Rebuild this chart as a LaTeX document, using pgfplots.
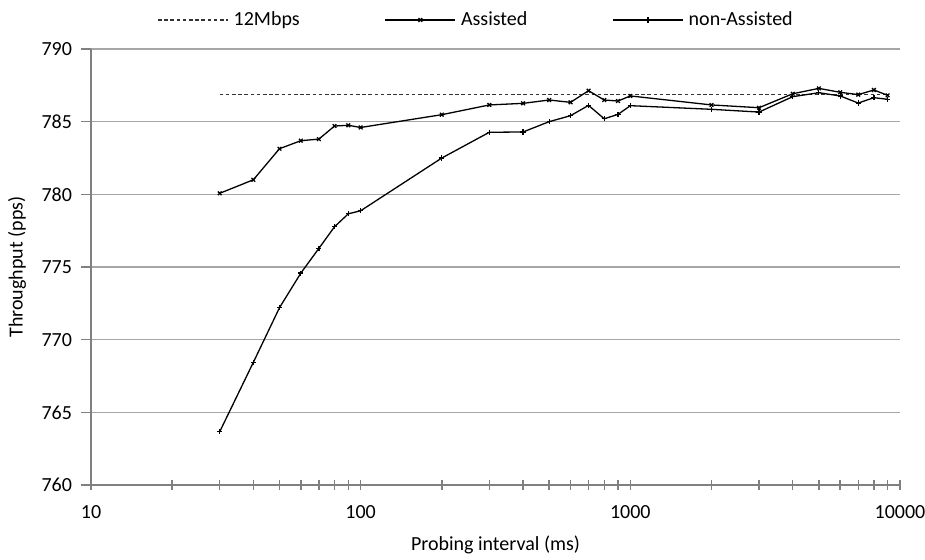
\documentclass[border=0pt]{standalone}
\usepackage{fontspec}
\setmainfont{Carlito}
\usepackage{pgfplots}
\pgfplotsset{compat=1.18}
\begin{document}
\fontsize{10}{12}\selectfont
\begin{tikzpicture}
\path[use as bounding box] (-45.5pt,-37.5pt) rectangle (417pt,242.5pt);
\begin{axis}[
  at={(0pt,0pt)}, anchor=south west,
  scale only axis, width=404.5pt, height=218pt,
  xmode=log, log basis x=10,
  xmin=10, xmax=10000, ymin=760, ymax=790,
  xtick={10,100,1000,10000}, xticklabels={10,100,1000,10000},
  minor xtick={20,30,40,50,60,70,80,90,200,300,400,500,600,700,800,900,2000,3000,4000,5000,6000,7000,8000,9000},
  ytick={760,765,770,775,780,785,790},
  /pgf/number format/assume math mode=true,
  yticklabel style={/pgf/number format/fixed, /pgf/number format/1000 sep={}, xshift=-1pt},
  xticklabel style={yshift=-4pt},
  axis x line*=bottom, axis y line*=left,
  axis line style={-, gray, line width=0.7pt},
  xtick align=center, ytick align=outside,
  major tick length=5pt, minor tick length=5pt,
  tick style={gray, line width=0.7pt},
  ymajorgrids, grid style={gray!70, line width=0.6pt},
  every axis x label/.style={at={(axis description cs:0.5,0)}, yshift=-30pt, anchor=center},
  every axis y label/.style={at={(axis description cs:0,0.5)}, xshift=-37pt, rotate=90, anchor=center},
  xlabel={Probing interval (ms)}, ylabel={Throughput (pps)},
  legend columns=3,
  legend style={draw=none, fill=none, at={(axis description cs:0.5,1)}, anchor=center, yshift=14.5pt, xshift=-9pt,
    /tikz/every even column/.append style={column sep=40pt}, inner sep=0pt, nodes={inner xsep=2.5pt}},
  legend image code/.code={\draw[mark repeat=2,mark phase=2,#1] plot coordinates {(0pt,0pt) (17.5pt,0pt) (35pt,0pt)};},
  clip=false,
]
\addplot[black!80, line width=0.7pt, dash pattern=on 1.8pt off 1.3pt] coordinates {(30,786.88) (9000,786.88)};
\addlegendentry{12Mbps}
\addplot[black, line width=0.65pt, mark=x, mark size=1.3pt] coordinates {
(30,780.07) (40,781.0) (50,783.14) (60,783.69) (70,783.8) (80,784.7) (90,784.75) (100,784.6)
(200,785.48) (300,786.15) (400,786.26) (500,786.49) (600,786.33) (700,787.13) (800,786.49)
(900,786.42) (1000,786.77) (2000,786.15) (3000,785.96) (4000,786.92) (5000,787.29)
(6000,787.02) (7000,786.86) (8000,787.18) (9000,786.81)};
\addlegendentry{Assisted}
\addplot[black, line width=0.65pt, mark=+, mark size=1.3pt] coordinates {
(30,763.66) (40,768.44) (50,772.2) (60,774.58) (70,776.28) (80,777.77) (90,778.66) (100,778.87)
(200,782.5) (300,784.27) (400,784.29) (500,785.0) (600,785.41) (700,786.12) (800,785.2)
(900,785.5) (1000,786.1) (2000,785.85) (3000,785.66) (4000,786.72) (5000,786.99)
(6000,786.77) (7000,786.28) (8000,786.65) (9000,786.54)};
\addlegendentry{non-Assisted}
\end{axis}
\end{tikzpicture}
\end{document}
